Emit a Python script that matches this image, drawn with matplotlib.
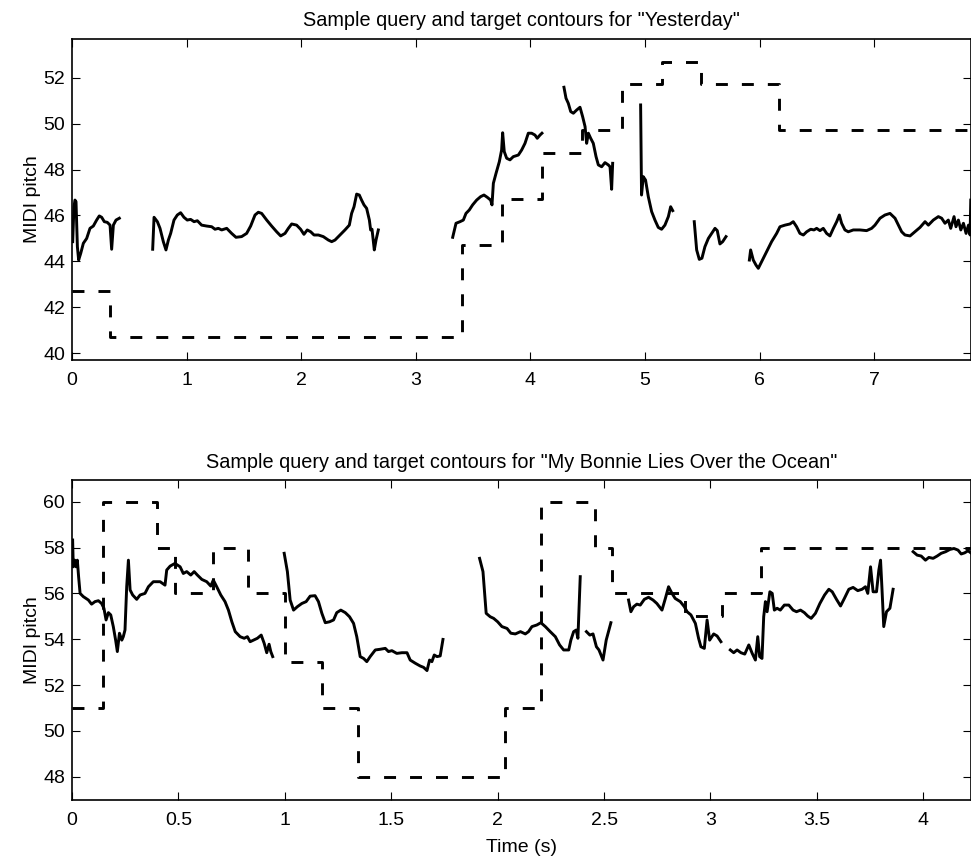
import numpy as np
import matplotlib
matplotlib.use("Agg")
import matplotlib.pyplot as plt

plt.rcParams['font.family'] = ['Liberation Sans', 'DejaVu Sans']

# ---------------- Data: "Yesterday" ----------------
yest_target_t = [0, 0.33, 3.40, 3.755, 4.10, 4.45, 4.80, 5.15, 5.49, 6.17, 7.86]
yest_target_p = [42.7, 40.7, 44.7, 46.7, 48.7, 49.7, 51.7, 52.7, 51.7, 49.7, 49.7]

yest_q1_t = [0.006, 0.017, 0.026, 0.035, 0.047, 0.058, 0.076, 0.099, 0.128, 0.157, 0.186, 0.215, 0.238, 0.259,
             0.282, 0.308, 0.332, 0.346, 0.361, 0.384, 0.413]
yest_q1_p = [44.86, 46.38, 46.67, 46.6, 44.64, 44.06, 44.35, 44.79, 45.0, 45.44, 45.54, 45.80, 45.98, 45.92,
             45.73, 45.70, 45.58, 44.53, 45.58, 45.80, 45.88]

yest_q2_t = [0.704, 0.716, 0.745, 0.768, 0.797, 0.820, 0.841, 0.861, 0.890, 0.919, 0.948, 0.977, 1.006, 1.035,
             1.065, 1.094, 1.131, 1.175, 1.219, 1.248, 1.277, 1.306, 1.350, 1.393, 1.431, 1.480, 1.524, 1.559,
             1.597, 1.626, 1.655, 1.699, 1.742, 1.786, 1.821, 1.859, 1.888, 1.917, 1.960, 1.995, 2.024, 2.053,
             2.083, 2.112, 2.150, 2.193, 2.237, 2.266, 2.295, 2.339, 2.382, 2.420, 2.440, 2.461, 2.484, 2.507,
             2.527, 2.548, 2.571, 2.595, 2.606, 2.618, 2.638, 2.653, 2.673]
yest_q2_p = [44.53, 45.92, 45.73, 45.44, 44.86, 44.50, 44.93, 45.22, 45.80, 46.02, 46.12, 45.92, 45.80, 45.83,
             45.73, 45.77, 45.58, 45.54, 45.51, 45.40, 45.44, 45.37, 45.44, 45.22, 45.05, 45.08, 45.22, 45.54,
             46.02, 46.14, 46.09, 45.80, 45.54, 45.29, 45.11, 45.22, 45.44, 45.63, 45.58, 45.40, 45.18, 45.37,
             45.29, 45.15, 45.15, 45.08, 44.93, 44.86, 44.93, 45.15, 45.37, 45.58, 46.09, 46.38, 46.93, 46.89,
             46.67, 46.46, 46.31, 45.80, 45.37, 45.40, 44.50, 44.93, 45.37]

yest_q3_t = [3.322, 3.351, 3.386, 3.415, 3.438, 3.467, 3.496, 3.531, 3.566, 3.595, 3.624, 3.653, 3.665, 3.677,
             3.700, 3.729, 3.749, 3.758, 3.772, 3.793, 3.822, 3.851, 3.895, 3.924, 3.953, 3.982, 4.011, 4.040,
             4.060, 4.084, 4.101]
yest_q3_p = [45.05, 45.66, 45.73, 45.80, 46.09, 46.24, 46.46, 46.67, 46.82, 46.89, 46.79, 46.67, 46.46, 47.40,
             47.83, 48.34, 48.85, 49.60, 48.78, 48.49, 48.42, 48.56, 48.63, 48.85, 49.14, 49.58, 49.58, 49.50,
             49.36, 49.50, 49.58]

yest_q4_t = [4.293, 4.311, 4.331, 4.352, 4.375, 4.404, 4.433, 4.456, 4.477, 4.491, 4.506, 4.526, 4.549, 4.573,
             4.593, 4.622, 4.651, 4.680, 4.695, 4.709, 4.718]
yest_q4_p = [51.58, 51.10, 50.88, 50.52, 50.45, 50.59, 50.71, 50.30, 49.87, 49.14, 49.58, 49.36, 49.14, 48.56,
             48.20, 48.12, 48.30, 48.20, 48.12, 47.14, 48.27]

yest_q5_t = [4.962, 4.970, 4.985, 5.005, 5.029, 5.058, 5.087, 5.116, 5.145, 5.174, 5.204, 5.224, 5.242]
yest_q5_p = [50.81, 46.89, 47.69, 47.54, 46.82, 46.17, 45.80, 45.48, 45.40, 45.58, 45.95, 46.38, 46.21]

yest_q6_t = [5.430, 5.451, 5.474, 5.497, 5.523, 5.553, 5.582, 5.611, 5.631, 5.654, 5.678, 5.707]
yest_q6_p = [45.73, 44.50, 44.09, 44.14, 44.64, 45.00, 45.22, 45.44, 45.34, 44.76, 44.86, 45.08]

yest_q7_t = [5.911, 5.922, 5.945, 5.969, 5.989, 6.018, 6.062, 6.105, 6.149, 6.178, 6.222, 6.265, 6.294, 6.323,
             6.352, 6.382, 6.411, 6.446, 6.475, 6.498, 6.527, 6.556, 6.585, 6.614, 6.644, 6.673, 6.696, 6.716,
             6.745, 6.774, 6.818, 6.876, 6.934, 6.978, 7.007, 7.051, 7.094, 7.138, 7.182, 7.211, 7.240, 7.269,
             7.313, 7.356, 7.400, 7.444, 7.473, 7.516, 7.560, 7.589, 7.618, 7.647, 7.668, 7.697, 7.714, 7.735,
             7.756, 7.779, 7.802, 7.823, 7.837, 7.843]
yest_q7_p = [44.06, 44.50, 44.06, 43.84, 43.70, 43.99, 44.42, 44.86, 45.22, 45.51, 45.58, 45.63, 45.73, 45.51,
             45.22, 45.15, 45.29, 45.40, 45.37, 45.44, 45.34, 45.44, 45.22, 45.11, 45.44, 45.73, 46.02, 45.66,
             45.37, 45.29, 45.37, 45.37, 45.34, 45.44, 45.58, 45.88, 46.02, 46.09, 45.88, 45.58, 45.29, 45.15,
             45.11, 45.29, 45.48, 45.73, 45.58, 45.80, 45.95, 45.88, 45.66, 45.80, 45.44, 45.95, 45.51, 45.80,
             45.37, 45.66, 45.22, 45.58, 45.15, 46.67]

# ---------------- Data: "My Bonnie" ----------------
bon_target_t = [0, 0.144, 0.398, 0.484, 0.661, 0.829, 1.001, 1.174, 1.346, 2.033, 2.203, 2.459, 2.537, 2.882,
                3.054, 3.235, 4.23]
bon_target_p = [51, 60, 58, 56, 58, 56, 53, 51, 48, 51, 60, 58, 56, 55, 56, 58, 58]

bon_q1_t = [0.003, 0.006, 0.013, 0.019, 0.025, 0.031, 0.038, 0.053, 0.077, 0.092, 0.108, 0.124, 0.139, 0.150,
            0.160, 0.171, 0.182, 0.194, 0.205, 0.213, 0.223, 0.234, 0.241, 0.249, 0.257, 0.265, 0.273, 0.285,
            0.304, 0.320, 0.343, 0.359, 0.382, 0.414, 0.437, 0.445, 0.461, 0.484, 0.508, 0.523, 0.539, 0.558,
            0.574, 0.589, 0.610, 0.633, 0.652, 0.664, 0.680, 0.699, 0.719, 0.735, 0.751, 0.767, 0.790, 0.809,
            0.824, 0.837, 0.853, 0.871, 0.889, 0.903, 0.915, 0.926, 0.934, 0.943]
bon_q1_p = [58.33, 57.16, 57.45, 57.16, 57.45, 56.73, 56.0, 55.86, 55.71, 55.53, 55.64, 55.68, 55.56, 55.35,
            54.84, 55.16, 55.06, 54.55, 53.96, 53.46, 54.26, 53.96, 54.11, 54.40, 56.29, 57.45, 56.15, 55.93,
            55.74, 55.93, 56.0, 56.29, 56.51, 56.51, 56.36, 57.02, 57.19, 57.31, 57.16, 56.87, 56.95, 56.80,
            56.95, 56.80, 56.61, 56.51, 56.32, 56.58, 56.29, 55.93, 55.64, 55.27, 54.76, 54.33, 54.11, 54.04,
            54.11, 53.89, 53.96, 54.04, 54.18, 53.82, 53.41, 53.78, 53.46, 53.24]

bon_q2_t = [0.997, 1.012, 1.025, 1.041, 1.059, 1.080, 1.100, 1.119, 1.142, 1.158, 1.174, 1.190, 1.210, 1.229,
            1.244, 1.263, 1.284, 1.304, 1.323, 1.338, 1.354, 1.370, 1.385, 1.401, 1.425, 1.448, 1.472, 1.487,
            1.503, 1.526, 1.550, 1.574, 1.589, 1.613, 1.636, 1.652, 1.668, 1.680, 1.691, 1.702, 1.715, 1.730,
            1.743]
bon_q2_p = [57.75, 56.95, 55.71, 55.27, 55.42, 55.56, 55.64, 55.88, 55.90, 55.64, 55.13, 54.72, 54.76, 54.84,
            55.16, 55.27, 55.16, 54.98, 54.69, 54.11, 53.24, 53.16, 53.02, 53.24, 53.53, 53.56, 53.60, 53.46,
            53.50, 53.38, 53.41, 53.41, 53.09, 52.95, 52.83, 52.77, 52.63, 53.09, 53.02, 53.31, 53.24, 53.27,
            53.99]

bon_q3_t = [1.915, 1.931, 1.946, 1.965, 1.981, 2.000, 2.020, 2.044, 2.062, 2.083, 2.107, 2.130, 2.145, 2.161,
            2.184, 2.203, 2.224, 2.247, 2.271, 2.291, 2.310, 2.334, 2.344, 2.357, 2.369, 2.377, 2.388]
bon_q3_p = [57.53, 56.95, 55.13, 54.98, 54.91, 54.76, 54.55, 54.47, 54.26, 54.23, 54.33, 54.23, 54.33, 54.55,
            54.62, 54.72, 54.55, 54.33, 54.11, 53.75, 53.53, 53.53, 53.96, 54.33, 54.40, 54.04, 56.73]

bon_q4_t = [2.417, 2.433, 2.448, 2.464, 2.476, 2.495, 2.510, 2.532]
bon_q4_p = [54.33, 54.18, 54.23, 53.67, 53.53, 53.09, 53.96, 54.72]

bon_q5_t = [2.615, 2.626, 2.639, 2.654, 2.670, 2.689, 2.709, 2.730, 2.748, 2.772, 2.788, 2.803, 2.819, 2.834,
            2.858, 2.877, 2.890, 2.908, 2.929, 2.944, 2.955, 2.971, 2.984, 2.996, 3.015, 3.031, 3.049]
bon_q5_p = [55.71, 55.20, 55.42, 55.53, 55.49, 55.74, 55.83, 55.71, 55.56, 55.27, 55.78, 56.29, 56.0, 55.78,
            55.64, 55.42, 55.20, 55.06, 54.69, 54.04, 53.67, 53.60, 54.84, 53.96, 54.23, 54.14, 53.89]

bon_q6_t = [3.093, 3.109, 3.125, 3.143, 3.161, 3.180, 3.196, 3.211, 3.222, 3.231, 3.242, 3.250, 3.258, 3.266,
            3.279, 3.290, 3.300, 3.313, 3.328, 3.347, 3.368, 3.388, 3.404, 3.423, 3.441, 3.457, 3.473, 3.493,
            3.514, 3.536, 3.556, 3.572, 3.592, 3.611, 3.629, 3.650, 3.670, 3.692, 3.712, 3.728, 3.739, 3.752,
            3.764, 3.780, 3.791, 3.799, 3.806, 3.814, 3.827, 3.843, 3.858]
bon_q6_p = [53.53, 53.41, 53.53, 53.41, 53.35, 53.75, 53.38, 53.09, 54.11, 53.24, 53.16, 54.98, 55.64, 55.20,
            56.07, 56.0, 55.27, 55.35, 55.27, 55.49, 55.49, 55.27, 55.20, 55.27, 55.16, 55.01, 54.91, 55.13,
            55.56, 55.93, 56.18, 56.07, 55.74, 55.45, 55.78, 56.18, 56.26, 56.12, 56.18, 56.29, 56.0, 57.16,
            56.07, 56.07, 57.02, 57.45, 56.15, 54.55, 55.20, 55.35, 56.18]

bon_q7_t = [3.952, 3.971, 3.990, 4.010, 4.026, 4.046, 4.065, 4.084, 4.105, 4.125, 4.144, 4.163, 4.178, 4.194,
            4.210, 4.226]
bon_q7_p = [57.82, 57.67, 57.63, 57.45, 57.57, 57.53, 57.63, 57.75, 57.82, 57.92, 57.96, 57.89, 57.72, 57.77,
            57.86, 57.75]

yest_xticks = [0, 1, 2, 3, 4, 5, 6, 7]
yest_yticks = [40, 42, 44, 46, 48, 50, 52]
bon_xticks = [0, 0.5, 1, 1.5, 2, 2.5, 3, 3.5, 4]
bon_xticklabels = ["0", "0.5", "1", "1.5", "2", "2.5", "3", "3.5", "4"]
bon_yticks = [48, 50, 52, 54, 56, 58, 60]

title_top = 'Sample query and target contours for "Yesterday"'
title_bot = 'Sample query and target contours for "My Bonnie Lies Over the Ocean"'


def join_segments(segs):
    xs, ys = [], []
    for t, p in segs:
        xs.extend(t + [np.nan])
        ys.extend(p + [np.nan])
    return np.array(xs), np.array(ys)


W, H = 971, 860
fig = plt.figure(figsize=(W / 100, H / 100), dpi=100)

ax1 = fig.add_axes([72 / W, 1 - 360 / H, 899 / W, 321 / H])
ax2 = fig.add_axes([72 / W, 1 - 800 / H, 899 / W, 320 / H])

FS = 14
LW = 2.1
DASH = (4.1, 4.8)

# Top
xq, yq = join_segments([(yest_q1_t, yest_q1_p), (yest_q2_t, yest_q2_p), (yest_q3_t, yest_q3_p),
                        (yest_q4_t, yest_q4_p), (yest_q5_t, yest_q5_p), (yest_q6_t, yest_q6_p),
                        (yest_q7_t, yest_q7_p)])
ax1.plot(xq, yq, color='black', lw=LW, solid_joinstyle='round')
ax1.plot(yest_target_t, yest_target_p, color='black', lw=LW, drawstyle='steps-post', dashes=DASH)
ax1.set_xlim(0, 7.845)
ax1.set_ylim(39.71, 53.68)
ax1.set_xticks(yest_xticks)
ax1.set_yticks(yest_yticks)
ax1.set_ylabel('MIDI pitch', fontsize=FS, labelpad=1.5)
ax1.set_title(title_top, fontsize=14.3, pad=9)

# Bottom
xq, yq = join_segments([(bon_q1_t, bon_q1_p), (bon_q2_t, bon_q2_p), (bon_q3_t, bon_q3_p),
                        (bon_q4_t, bon_q4_p), (bon_q5_t, bon_q5_p), (bon_q6_t, bon_q6_p),
                        (bon_q7_t, bon_q7_p)])
ax2.plot(xq, yq, color='black', lw=LW, solid_joinstyle='round')
ax2.plot(bon_target_t, bon_target_p, color='black', lw=LW, drawstyle='steps-post', dashes=DASH)
ax2.set_xlim(0, 4.224)
ax2.set_ylim(46.98, 60.95)
ax2.set_xticks(bon_xticks)
ax2.set_xticklabels(bon_xticklabels)
ax2.set_yticks(bon_yticks)
ax2.set_ylabel('MIDI pitch', fontsize=FS, labelpad=1.5)
ax2.set_xlabel('Time (s)', fontsize=FS, labelpad=7)
ax2.set_title(title_bot, fontsize=14.3, pad=9)

for ax in (ax1, ax2):
    ax.tick_params(direction='in', length=6, width=0.8, top=True, right=True,
                   labelsize=FS, colors='black')
    ax.tick_params(axis='x', pad=8.5)
    ax.tick_params(axis='y', pad=5)
    for s in ax.spines.values():
        s.set_linewidth(1.2)

fig.savefig('out.png', dpi=100)
